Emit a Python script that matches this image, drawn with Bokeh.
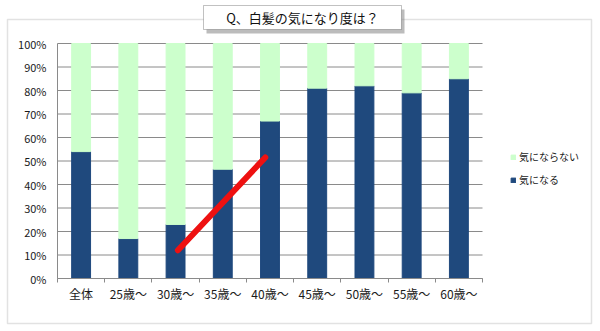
from bokeh.plotting import figure
from bokeh.models import (Range1d, FixedTicker, PrintfTickFormatter, BoxAnnotation,
                          Label, Legend, LegendItem, ColumnDataSource, LinearAxis)
from bokeh.embed import file_html
from bokeh.resources import INLINE

# ---- data ----
categories = ["全体", "25歳～", "30歳～", "35歳～", "40歳～", "45歳～", "50歳～", "55歳～", "60歳～"]
ki_ni_naru = [54, 17, 23, 46.5, 67, 81, 82, 79, 85]          # 気になる
ki_ni_naranai = [46, 83, 77, 53.5, 33, 19, 18, 21, 15]       # 気にならない
y_ticks = [0, 10, 20, 30, 40, 50, 60, 70, 80, 90, 100]
trend_x = [2.05, 3.9]
trend_y = [12, 51.5]
title_text = "Q、白髪の気になり度は？"

NAVY = "#1F497D"
GREEN = "#CCFFCC"
GRID = "#8a8a8a"
FONT = "Noto Sans CJK JP"

W, H = 600, 331
# plot area in canvas pixels (from top-left)
PL, PR, PT, PB = 57, 482, 43, 278
n = len(categories)
cw = (PR - PL) / n
uy = (PB - PT) / 100.0
x_range = Range1d(-0.5 - PL / cw, n - 0.5 + (W - PR) / cw)
y_range = Range1d(-(H - PB) / uy, 100 + PT / uy)

xs = list(range(n))
src = ColumnDataSource(dict(x=xs, naru=ki_ni_naru, naranai=ki_ni_naranai))

p = figure(width=W, height=H, x_range=x_range, y_range=y_range,
           output_backend="svg", toolbar_location=None,
           x_axis_location=None, y_axis_location=None,
           min_border=0, min_border_left=0, min_border_right=0, min_border_top=0, min_border_bottom=0)
p.outline_line_color = None
p.background_fill_color = "white"
p.border_fill_color = "white"
p.xgrid.visible = False
p.ygrid.visible = False

# horizontal gridlines across the plot area
p.segment(x0=[-0.5] * len(y_ticks), x1=[n - 0.5] * len(y_ticks), y0=y_ticks, y1=y_ticks,
          line_color=GRID, line_width=1)

# bars
rs = p.vbar_stack(["naru", "naranai"], x="x", width=0.4, color=[NAVY, GREEN], source=src)

# red trend line
p.line(trend_x, trend_y, line_color="#ee1111", line_width=6, line_cap="round")

# x axis
xaxis = LinearAxis(fixed_location=0, bounds=(-0.5, n - 0.5))
xaxis.ticker = FixedTicker(ticks=xs, minor_ticks=[i - 0.5 for i in range(n + 1)])
xaxis.major_label_overrides = {i: c for i, c in enumerate(categories)}
xaxis.major_tick_line_color = None
xaxis.major_tick_out = 0
xaxis.major_tick_in = 0
xaxis.minor_tick_line_color = GRID
xaxis.minor_tick_out = 4
xaxis.minor_tick_in = 0
xaxis.axis_line_color = GRID
xaxis.major_label_standoff = 2
xaxis.major_label_text_font = FONT
xaxis.major_label_text_font_size = "12px"
xaxis.major_label_text_color = "#1a1a1a"
p.add_layout(xaxis, "below")

# y axis
yaxis = LinearAxis(fixed_location=-0.5, bounds=(0, 100))
yaxis.ticker = FixedTicker(ticks=y_ticks)
yaxis.formatter = PrintfTickFormatter(format="%d%%")
yaxis.major_tick_line_color = None
yaxis.minor_tick_line_color = None
yaxis.major_tick_out = 0
yaxis.major_tick_in = 0
yaxis.axis_line_color = GRID
yaxis.major_label_standoff = 11
yaxis.major_label_text_font = FONT
yaxis.major_label_text_font_size = "11px"
yaxis.major_label_text_color = "#1a1a1a"
p.add_layout(yaxis, "left")

# legend (screen units from canvas bottom-left)
legend = Legend(items=[LegendItem(label="気にならない", renderers=[rs[1]]),
                       LegendItem(label="気になる", renderers=[rs[0]])],
                location=(510, H - 187), orientation="vertical",
                glyph_width=6, glyph_height=6, label_height=12, spacing=8,
                padding=0, margin=0, label_standoff=3,
                border_line_color=None, background_fill_alpha=0,
                label_text_font=FONT, label_text_font_size="10px", label_text_color="#1a1a1a")
p.add_layout(legend)

def sbox(l, r, t, b, **kw):
    return BoxAnnotation(left=l, right=r, top=H - t, bottom=H - b,
                         left_units="screen", right_units="screen",
                         top_units="screen", bottom_units="screen", **kw)

# outer chart border
p.add_layout(sbox(7, 591, 19, 323, fill_alpha=0, line_color="#a0a0a0", line_width=1.5))
# title box with shadow
p.add_layout(sbox(206, 404, 9, 33, fill_color="#7a7a7a", fill_alpha=0.5, line_alpha=0))
p.add_layout(sbox(203, 401, 5, 29, fill_color="white", fill_alpha=1, line_color="#333333", line_width=1))
p.add_layout(Label(x=302, y=H - 17, x_units="screen", y_units="screen", text=title_text,
                   text_align="center", text_baseline="middle",
                   text_font=FONT, text_font_size="13px", text_color="#111111"))

open("out.html", "w").write(file_html(p, INLINE))
